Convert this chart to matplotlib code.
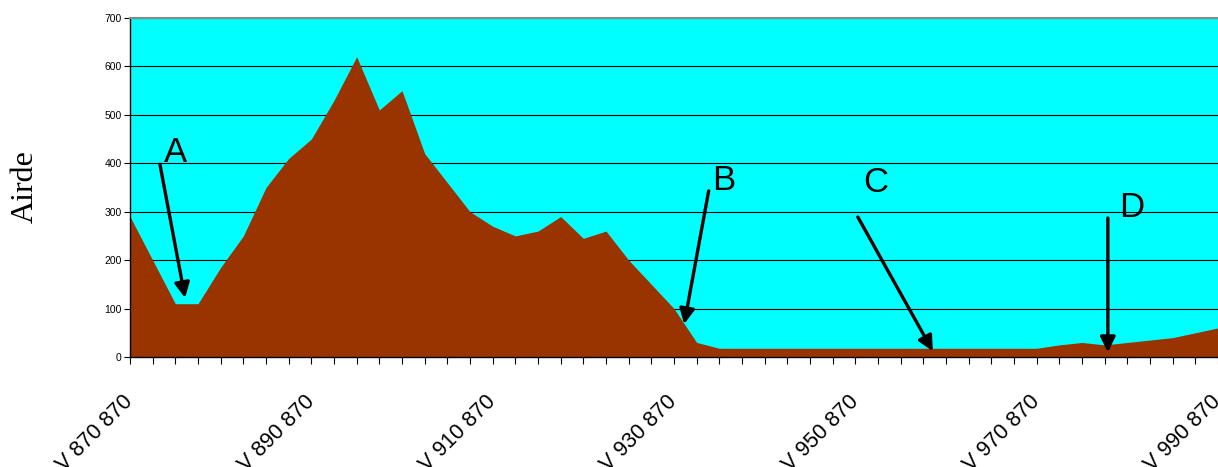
import numpy as np
import matplotlib.pyplot as plt

# profile heights, one per tick
heights = [290, 200, 110, 110, 185, 250, 350, 410, 450, 530,
           620, 510, 550, 420, 360, 300, 270, 250, 260, 290,
           245, 260, 200, 150, 100, 30, 18, 18, 18, 18,
           18, 18, 18, 18, 18, 18, 18, 18, 18, 18,
           18, 25, 30, 25, 30, 35, 40, 50, 60]
tick_labels = ['V 870 870', 'V 890 870', 'V 910 870', 'V 930 870',
               'V 950 870', 'V 970 870', 'V 990 870']
label_step = 8
y_ticks = [0, 100, 200, 300, 400, 500, 600, 700]

# annotation letters: (text pos, arrow start, arrow tip) in data coords
marks = {
    'A': ((2.0, 423), (1.32, 398), (2.43, 122)),
    'B': ((26.2, 365), (25.53, 343), (24.45, 68)),
    'C': ((32.9, 361), (32.11, 289), (35.42, 12)),
    'D': ((44.2, 308), (43.14, 287), (43.14, 10)),
}

x = np.arange(len(heights))

fig = plt.figure(figsize=(12.18, 4.67), dpi=100)
ax = fig.add_axes([130 / 1218, 1 - 357 / 467, 1 - 130 / 1218, (357 - 18) / 467])
ax.set_facecolor('#00FFFF')

ax.fill_between(x, heights, 0, color='#993300', linewidth=0, zorder=2)

ax.set_xlim(0, len(heights) - 1)
ax.set_ylim(0, 700)

# horizontal grid
ax.set_yticks(y_ticks)
ax.yaxis.grid(True, color='black', linewidth=0.8, zorder=1)
ax.set_axisbelow(True)
ax.tick_params(axis='y', labelsize=7.5, length=4, width=0.8, pad=2,
               labelfontfamily='Liberation Sans')

ax.set_xticks(x, minor=True)
ax.set_xticks(x[::label_step])
ax.set_xticklabels(tick_labels, rotation=45, ha='right', va='center',
                   rotation_mode='anchor', fontsize=15.5, family='Liberation Sans')
ax.tick_params(axis='x', which='both', length=5, width=0.8, direction='out')
ax.tick_params(axis='x', which='major', pad=25)

ax.spines['top'].set_color('#888888')
ax.spines['top'].set_linewidth(1.5)
ax.spines['right'].set_visible(False)
ax.spines['left'].set_linewidth(1)
ax.spines['bottom'].set_linewidth(1)

for letter, (tpos, start, tip) in marks.items():
    ax.annotate('', xy=tip, xytext=start, zorder=5,
                arrowprops=dict(arrowstyle='-|>,head_length=0.9,head_width=0.45',
                                color='black', lw=2.4, shrinkA=0, shrinkB=0))
    ax.text(tpos[0], tpos[1], letter, fontsize=25, family='Liberation Sans',
            ha='center', va='center', zorder=6)

fig.text(25 / 1218, 1 - 187 / 467, 'Airde', rotation=90, ha='center', va='center',
         fontsize=23, family='Liberation Serif')

fig.savefig('out.png', dpi=100)
